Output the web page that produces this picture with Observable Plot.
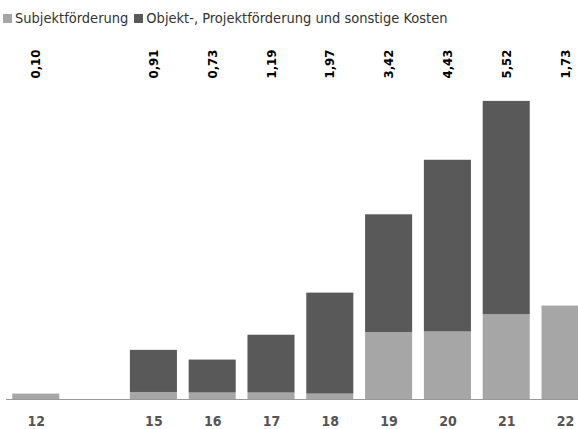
<!DOCTYPE html>
<html>
<head>
<meta charset="utf-8">
<script src="https://cdn.jsdelivr.net/npm/d3@7"></script>
<script src="https://cdn.jsdelivr.net/npm/@observablehq/plot@0.6"></script>
<style>
  html, body { margin: 0; padding: 0; background: #fff; overflow: hidden; width: 578px; height: 429px; }
  body { font-family: "Liberation Sans Narrow", "Arial Narrow", "DejaVu Sans Condensed", sans-serif; }
  #legend { height: 30px; display: flex; align-items: center; font-size: 14.5px; color: #333; padding-left: 3px; box-sizing: border-box; padding-top: 6px; }
  #legend .item { display: flex; align-items: center; margin-right: 6px; }
  #legend .sw { width: 9px; height: 9px; margin-right: 3px; }
  svg { overflow: hidden; display: block; }
</style>
</head>
<body>
<div id="legend"></div>
<div id="chart"></div>
<script>
const categories = ["12", " ", "15", "16", "17", "18", "19", "20", "21", "22"];
const subjektfoerderung = [0.10, 0, 0.13, 0.12, 0.12, 0.10, 1.24, 1.25, 1.57, 1.73];
const objektfoerderung = [0, 0, 0.78, 0.61, 1.07, 1.87, 2.18, 3.18, 3.95, 0];
const totalLabels = ["0,10", "", "0,91", "0,73", "1,19", "1,97", "3,42", "4,43", "5,52", "1,73"];
const seriesNames = ["Subjektförderung", "Objekt-, Projektförderung und sonstige Kosten"];
const seriesColors = ["#a6a6a6", "#595959"];

const fontFamily = '"Liberation Sans Narrow", "Arial Narrow", "DejaVu Sans Condensed", sans-serif';

// legend
const legend = document.getElementById("legend");
seriesNames.forEach((name, i) => {
  const it = document.createElement("div");
  it.className = "item";
  const sw = document.createElement("div");
  sw.className = "sw";
  sw.style.background = seriesColors[i];
  it.appendChild(sw);
  const t = document.createElement("span");
  t.textContent = name;
  it.appendChild(t);
  legend.appendChild(it);
});

const rows = [];
categories.forEach((c, i) => {
  rows.push({cat: c, series: seriesNames[0], value: subjektfoerderung[i]});
  rows.push({cat: c, series: seriesNames[1], value: objektfoerderung[i]});
});
const labels = categories.map((c, i) => ({cat: c, label: totalLabels[i]})).filter(d => d.label);

const chart = Plot.plot({
  width: 578,
  height: 399,
  marginTop: 48,
  marginBottom: 30,
  marginLeft: 6,
  marginRight: 0,
  style: {fontFamily, background: "#fff"},
  x: {domain: categories, range: [0.5, 600.3], padding: 0.2, round: false, label: null},
  y: {domain: [0, 5.944], axis: null},
  color: {domain: seriesNames, range: seriesColors},
  marks: [
    Plot.barY(rows, {x: "cat", y: "value", fill: "series", order: seriesNames}),
    Plot.ruleY([0], {stroke: "#999", strokeWidth: 1}),
    Plot.axisX({tickSize: 0, tickPadding: 17, fontSize: 14, fontWeight: "bold", fill: "#555", tickFormat: d => d.trim()}),
    Plot.text(labels, {x: "cat", text: "label", frameAnchor: "top", rotate: -90, textAnchor: "start", lineAnchor: "middle", fontSize: 13, fontWeight: "bold", fill: "#000"})
  ]
});
document.getElementById("chart").appendChild(chart);
</script>
</body>
</html>
